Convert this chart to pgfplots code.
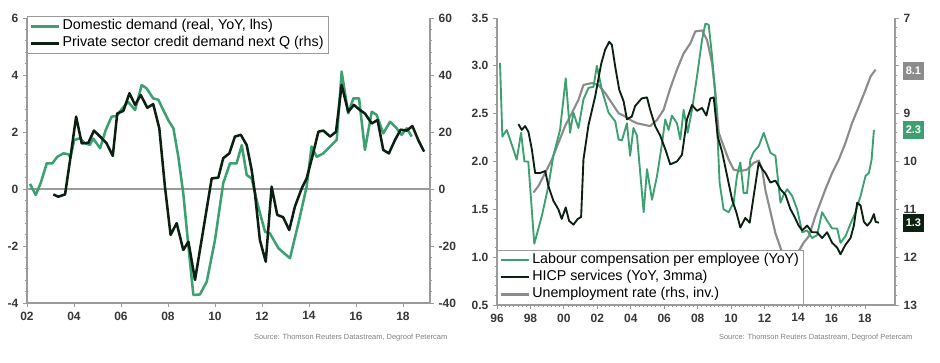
\documentclass[border=0pt]{standalone}
\usepackage{pgfplots}
\pgfplotsset{compat=1.18}
\usepackage{fontspec}
\setmainfont{Liberation Sans}
\definecolor{dpgreen}{RGB}{60,160,112}
\definecolor{dpdark}{RGB}{12,32,18}
\definecolor{dpgray}{RGB}{140,140,140}
\definecolor{axgray}{RGB}{155,155,155}
\definecolor{lblgray}{RGB}{55,55,55}

\pgfplotstableread{
x y
2002.13 0.18
2002.37 -0.21
2002.58 0.20
2002.84 0.90
2003.08 0.90
2003.29 1.13
2003.55 1.25
2003.76 1.22
2003.85 1.10
2004.01 1.72
2004.26 1.78
2004.47 1.60
2004.68 1.55
2004.82 1.77
2005.11 1.43
2005.35 2.07
2005.60 2.54
2005.82 2.56
2006.03 2.80
2006.30 3.06
2006.60 2.77
2006.88 3.65
2007.09 3.53
2007.37 3.18
2007.59 3.13
2007.80 2.77
2008.01 2.42
2008.23 2.13
2008.44 1.13
2008.65 -0.15
2008.87 -2.02
2009.08 -3.72
2009.36 -3.70
2009.65 -3.25
2010.00 -1.79
2010.35 0.20
2010.64 0.90
2010.92 0.90
2011.14 1.54
2011.35 0.49
2011.56 0.37
2011.84 -0.62
2012.13 -1.50
2012.34 -1.56
2012.70 -2.08
2013.19 -2.43
2013.55 -1.20
2013.90 0.08
2014.11 1.49
2014.33 1.13
2014.61 1.25
2014.90 1.49
2015.18 1.72
2015.39 4.12
2015.67 2.65
2015.89 3.18
2016.13 3.18
2016.38 1.37
2016.67 2.71
2016.88 2.60
2017.16 1.95
2017.45 2.36
2017.73 2.13
2017.94 1.90
2018.16 2.13
2018.37 1.84
}\domdemand

\pgfplotstableread{
x y
2003.12 -1.9
2003.33 -2.7
2003.62 -1.9
2003.83 10.0
2004.09 25.4
2004.33 16.0
2004.61 16.2
2004.85 20.5
2005.11 18.4
2005.39 16.0
2005.65 11.6
2005.84 26.5
2006.10 27.4
2006.36 33.6
2006.60 29.5
2006.84 33.0
2007.12 28.5
2007.37 29.8
2007.63 21.3
2007.87 0.8
2008.11 -16.1
2008.37 -12.0
2008.65 -21.4
2008.87 -18.5
2009.15 -31.9
2009.50 -14.4
2009.86 3.7
2010.14 4.0
2010.35 10.8
2010.61 12.5
2010.85 18.4
2011.10 19.0
2011.35 15.4
2011.56 6.7
2011.70 -1.5
2011.91 -17.9
2012.16 -25.5
2012.41 0.8
2012.65 -9.1
2012.90 -9.9
2013.16 -14.4
2013.40 -6.2
2013.69 0.2
2013.90 3.7
2014.14 11.3
2014.40 20.1
2014.61 20.5
2014.90 18.4
2015.15 20.1
2015.39 36.5
2015.67 27.1
2015.91 29.5
2016.17 27.7
2016.38 26.5
2016.67 23.0
2016.92 24.2
2017.16 13.7
2017.40 12.5
2017.66 17.2
2017.90 20.8
2018.16 20.5
2018.40 22.1
2018.65 17.2
2018.90 13.1
}\credit

\pgfplotstableread{
x y
1996.18 3.03
1996.32 2.26
1996.58 2.33
1996.78 2.23
1997.18 2.02
1997.44 2.30
1997.64 2.00
1997.87 2.00
1998.23 1.14
1998.68 1.43
1999.07 1.74
1999.37 2.06
1999.77 2.33
2000.11 2.87
2000.37 2.30
2000.57 2.51
2000.87 2.35
2001.17 2.65
2001.47 2.77
2001.77 2.78
2001.97 3.00
2002.27 2.75
2002.67 2.51
2003.07 2.42
2003.27 2.23
2003.47 2.22
2003.77 2.40
2003.96 2.06
2004.16 2.35
2004.37 2.27
2004.77 1.47
2004.97 1.92
2005.27 1.60
2005.57 1.85
2005.87 2.19
2006.06 2.44
2006.26 2.33
2006.46 2.48
2006.76 2.40
2006.96 2.23
2007.16 2.54
2007.40 2.30
2007.66 2.54
2007.96 2.89
2008.26 3.27
2008.46 3.44
2008.66 3.43
2008.86 3.10
2009.11 2.58
2009.31 1.78
2009.55 1.50
2009.85 1.47
2010.15 1.57
2010.35 1.85
2010.55 1.99
2010.75 1.67
2010.95 1.67
2011.15 2.02
2011.35 2.10
2011.65 2.16
2011.95 2.30
2012.35 2.09
2012.65 2.06
2012.95 1.57
2013.14 1.65
2013.35 1.71
2013.65 1.64
2013.95 1.50
2014.25 1.26
2014.55 1.28
2014.84 1.20
2015.14 1.23
2015.44 1.47
2015.74 1.38
2016.04 1.30
2016.34 1.30
2016.54 1.15
2016.84 1.22
2017.14 1.35
2017.44 1.47
2017.74 1.64
2018.04 1.85
2018.24 1.88
2018.40 2.02
2018.54 2.33
}\labour

\pgfplotstableread{
x y
1997.28 2.39
1997.48 2.33
1997.68 2.37
1997.88 2.31
1998.08 2.13
1998.28 1.88
1998.58 1.88
1998.88 1.90
1999.08 1.74
1999.37 1.59
1999.67 1.50
1999.87 1.40
2000.11 1.52
2000.31 1.38
2000.57 1.34
2000.83 1.40
2001.03 1.42
2001.17 2.02
2001.47 2.38
2001.87 2.68
2002.23 3.02
2002.47 3.17
2002.71 3.25
2002.87 3.22
2003.07 2.99
2003.31 2.75
2003.57 2.63
2003.77 2.44
2004.06 2.47
2004.26 2.58
2004.66 2.66
2004.97 2.67
2005.16 2.54
2005.46 2.37
2005.76 2.27
2006.06 2.13
2006.36 1.97
2006.76 2.00
2007.06 2.07
2007.36 2.44
2007.66 2.59
2007.96 2.53
2008.26 2.56
2008.52 2.48
2008.76 2.66
2008.96 2.67
2009.20 2.26
2009.46 2.10
2009.76 1.85
2010.06 1.60
2010.31 1.47
2010.55 1.31
2010.85 1.41
2011.11 1.36
2011.35 1.64
2011.65 1.99
2011.86 1.92
2012.05 1.88
2012.35 1.78
2012.65 1.80
2012.95 1.71
2013.25 1.65
2013.55 1.50
2013.74 1.44
2014.04 1.33
2014.25 1.28
2014.55 1.33
2014.84 1.26
2015.14 1.26
2015.44 1.20
2015.74 1.26
2016.04 1.15
2016.34 1.10
2016.54 1.03
2016.84 1.13
2017.14 1.20
2017.34 1.33
2017.54 1.57
2017.74 1.54
2017.94 1.37
2018.14 1.33
2018.34 1.37
2018.54 1.45
2018.64 1.37
2018.84 1.36
}\hicp

\pgfplotstableread{
x y
1998.18 10.65
1998.48 10.51
1998.88 10.24
1999.28 9.96
1999.67 9.61
2000.07 9.26
2000.47 8.99
2000.87 8.71
2001.17 8.40
2001.67 8.36
2002.07 8.40
2002.47 8.57
2002.87 8.78
2003.27 8.99
2003.67 9.06
2004.07 9.15
2004.37 9.20
2004.77 9.23
2005.16 9.26
2005.57 9.13
2005.96 8.92
2006.36 8.47
2006.76 8.08
2007.16 7.74
2007.56 7.53
2007.86 7.28
2008.26 7.26
2008.56 7.46
2008.86 7.94
2009.06 8.57
2009.26 9.40
2009.55 9.68
2009.85 9.96
2010.15 10.17
2010.55 10.20
2010.95 10.17
2011.35 10.03
2011.65 9.98
2011.85 10.15
2012.05 10.60
2012.35 11.05
2012.65 11.50
2013.00 11.85
2013.30 12.05
2013.70 12.05
2014.00 11.90
2014.35 11.69
2014.65 11.56
2015.04 11.14
2015.34 10.86
2015.64 10.58
2016.04 10.24
2016.44 9.96
2016.84 9.61
2017.24 9.19
2017.64 8.85
2018.04 8.50
2018.34 8.22
2018.64 8.08
}\unemp

\pgfplotsset{
  dpbase/.style={
    scale only axis,
    /pgf/number format/assume math mode=true,
    tick align=outside,
    axis line style={axgray, line width=0.8pt, -},
    every tick/.style={axgray, line width=0.6pt},
    major tick length=3pt,
    minor tick length=1.8pt,
    tick label style={font=\fontsize{9}{10}\selectfont\bfseries, text=lblgray},
    legend cell align=left,
    legend image code/.code={\draw[##1] (0pt,0pt) -- (21pt,0pt);},
    legend style={draw=axgray, line width=0.7pt, fill=white,
      font=\fontsize{10.7}{12}\selectfont, inner xsep=2pt, inner ysep=1.35pt,
      row sep=0.44pt, nodes={inner sep=1.5pt, text depth=0.21em, text height=0.73em}},
  },
}

\begin{document}
\begin{tikzpicture}
\path[use as bounding box] (0,0) rectangle (705pt,272.25pt);

% ---------------- left panel ----------------
\begin{axis}[dpbase,
  at={(20.25pt,45pt)}, anchor=south west,
  width=302.25pt, height=213.75pt,
  xmin=2002, xmax=2019.15, ymin=-4, ymax=6,
  axis x line*=bottom, axis y line*=left,
  xtick={2002,2004,...,2018},
  xticklabels={02,04,06,08,10,12,14,16,18},
  minor x tick num=7,
  ytick={-4,-2,0,2,4,6},
  minor y tick num=4,
  extra y ticks={0}, extra y tick labels={},
  extra y tick style={grid=major, major grid style={axgray, line width=0.8pt}},
]
\addplot[dpgreen, line width=1.9pt, line join=round] table[x=x,y=y]{\domdemand};
\end{axis}

\begin{axis}[dpbase,
  at={(20.25pt,45pt)}, anchor=south west,
  width=302.25pt, height=213.75pt,
  xmin=2002, xmax=2019.15, ymin=-40, ymax=60,
  axis x line=none, axis y line*=right,
  ytick={-40,-20,0,20,40,60},
  minor y tick num=4,
  legend style={at={(0,1.008)}, anchor=north west},
]
\addlegendimage{dpgreen, line width=1.9pt}
\addlegendentry{Domestic demand (real, YoY, lhs)}
\addplot[dpdark, line width=1.9pt, line join=round] table[x=x,y=y]{\credit};
\addlegendentry{Private sector credit demand next Q (rhs)\hspace{15pt}}
\end{axis}

% ---------------- right panel ----------------
\begin{axis}[dpbase,
  at={(372.75pt,43.5pt)}, anchor=south west,
  width=298.5pt, height=215.25pt,
  xmin=1996, xmax=2019.8, ymin=7, ymax=13, y dir=reverse,
  axis x line=none, axis y line*=right,
  ytick={7,8,...,13},
  yticklabels={7,,9,10,11,12,13},
  minor y tick num=4,
]
\addplot[dpgray, line width=1.6pt, line join=round] table[x=x,y=y]{\unemp};
\coordinate (u81) at (axis cs:2019.8,8.1);
\end{axis}

\begin{axis}[dpbase,
  at={(372.75pt,43.5pt)}, anchor=south west,
  width=298.5pt, height=215.25pt,
  xmin=1996, xmax=2019.8, ymin=0.5, ymax=3.5,
  axis x line*=bottom, axis y line*=left,
  xtick={1996,1998,...,2018},
  xticklabels={96,98,00,02,04,06,08,10,12,14,16,18},
  minor x tick num=7,
  ytick={0.5,1.0,...,3.5},
  yticklabel style={/pgf/number format/fixed, /pgf/number format/fixed zerofill, /pgf/number format/precision=1},
  minor y tick num=4,
  legend style={at={(0,0)}, anchor=south west},
]
\addplot[dpgreen, line width=1.4pt, line join=round] table[x=x,y=y]{\labour};
\addlegendentry{Labour compensation per employee (YoY)\hspace{12pt}}
\addplot[dpdark, line width=1.4pt, line join=round] table[x=x,y=y]{\hicp};
\addlegendentry{HICP services (YoY, 3mma)}
\addlegendimage{dpgray, line width=1.6pt}
\addlegendentry{Unemployment rate (rhs, inv.)}
\coordinate (g23) at (axis cs:2019.8,2.33);
\coordinate (k13) at (axis cs:2019.8,1.36);
\end{axis}

\tikzset{valbox/.style={anchor=west, text=white, font=\fontsize{8.25}{9}\selectfont\bfseries,
  inner xsep=1.9pt, inner ysep=0pt, minimum height=13.5pt}}
\node[valbox, fill=dpgray] at ([xshift=6pt]u81) {8.1};
\node[valbox, fill=dpgreen] at ([xshift=6pt]g23) {2.3};
\node[valbox, fill=dpdark] at ([xshift=6pt]k13) {1.3};

\node[anchor=east, font=\fontsize{5.6}{6}\selectfont, text=gray] at (339pt,18.75pt)
  {Source: Thomson Reuters Datastream, Degroof Petercam};
\node[anchor=east, font=\fontsize{5.6}{6}\selectfont, text=gray] at (687.75pt,18.75pt)
  {Source: Thomson Reuters Datastream, Degroof Petercam};
\end{tikzpicture}
\end{document}
